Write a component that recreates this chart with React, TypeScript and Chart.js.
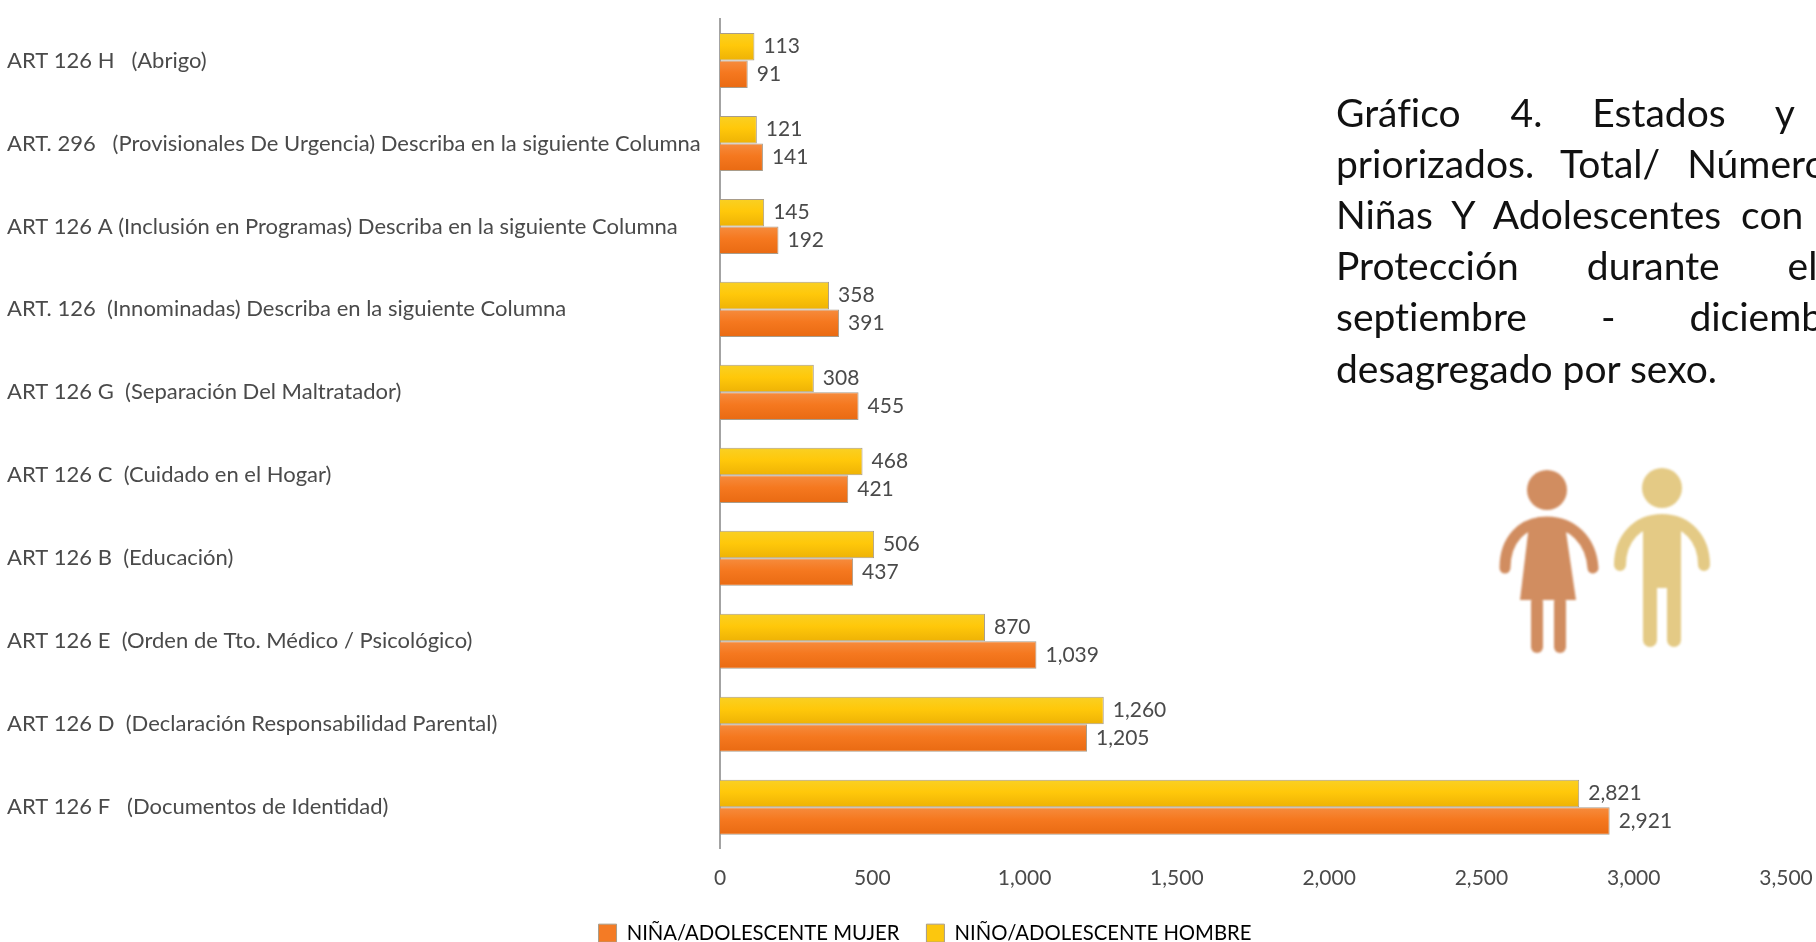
import React, { useEffect, useRef } from "react";
import { Chart, registerables } from "chart.js";

Chart.register(...registerables);

const categories = [
  "ART 126 F   (Documentos de Identidad)",
  "ART 126 D  (Declaración Responsabilidad Parental)",
  "ART 126 E  (Orden de Tto. Médico / Psicológico)",
  "ART 126 B  (Educación)",
  "ART 126 C  (Cuidado en el Hogar)",
  "ART 126 G  (Separación Del Maltratador)",
  "ART. 126  (Innominadas) Describa en la siguiente Columna",
  "ART 126 A (Inclusión en Programas) Describa en la siguiente Columna",
  "ART. 296   (Provisionales De Urgencia) Describa en la siguiente Columna",
  "ART 126 H   (Abrigo)",
];
const ninaValues = [2921, 1205, 1039, 437, 421, 455, 391, 192, 141, 91];
const ninoValues = [2821, 1260, 870, 506, 468, 308, 358, 145, 121, 113];
const ninaLabel = "NIÑA/ADOLESCENTE MUJER";
const ninoLabel = "NIÑO/ADOLESCENTE HOMBRE";

const captionLines = [
  "Gráfico 4. Estados y",
  "priorizados. Total/ Número",
  "Niñas Y Adolescentes con",
  "Protección durante el",
  "septiembre - diciembre",
  "desagregado por sexo.",
];
const captionSpacing = [40, 17, 10, 58, 64, 0];

const FONT = "Lato, 'Open Sans', sans-serif";
const CAT_PCT = 0.664;

const gradientFill = (stops: string[], upper: boolean) => (ctx: any) => {
  const { chart, dataIndex } = ctx;
  const y = chart.scales.y;
  if (!y || !chart.chartArea) return stops[1];
  const c = y.getPixelForValue(dataIndex);
  const half = ((chart.chartArea.height / categories.length) * CAT_PCT) / 2;
  const a = upper ? c - half : c;
  const b = upper ? c : c + half;
  const g = chart.ctx.createLinearGradient(0, a, 0, b);
  g.addColorStop(0, stops[0]);
  g.addColorStop(0.45, stops[1]);
  g.addColorStop(1, stops[2]);
  return g;
};

const valueLabels = {
  id: "valueLabels",
  afterDatasetsDraw(chart: any) {
    const { ctx } = chart;
    ctx.save();
    ctx.font = `21px ${FONT}`;
    ctx.fillStyle = "#4a4a4a";
    ctx.textAlign = "left";
    ctx.textBaseline = "middle";
    chart.data.datasets.forEach((ds: any, i: number) => {
      chart.getDatasetMeta(i).data.forEach((el: any, j: number) => {
        ctx.fillText(Number(ds.data[j]).toLocaleString("en-US"), el.x + 9, el.y);
      });
    });
    ctx.restore();
  },
};

const legendShift = {
  id: "legendShift",
  afterLayout(chart: any) {
    const l = chart.legend;
    const dx = 925 - (l.left + l.right) / 2;
    l.left += dx;
    l.right += dx;
    const dy = 935 - (l.top + 27 + 12);
    l.top += dy;
    l.bottom += dy;
    chart.scales.x.bottom += 40;
  },
};

function People() {
  const girl = "#d18d60";
  const boy = "#e4ca85";
  return (
    <svg
      width={1816}
      height={942}
      style={{ position: "absolute", left: 0, top: 0, filter: "blur(0.8px)", pointerEvents: "none" }}
    >
      <circle cx={1547} cy={490} r={20} fill={girl} />
      <path
        d="M1505 568 C1505 540 1522 522 1547 522 C1572 522 1591 540 1593 568"
        fill="none"
        stroke={girl}
        strokeWidth={11}
        strokeLinecap="round"
      />
      <path d="M1529 525 L1565 525 L1576 600 L1520 600 Z" fill={girl} />
      <rect x={1531} y={596} width={12} height={57} rx={6} fill={girl} />
      <rect x={1554} y={596} width={12} height={57} rx={6} fill={girl} />
      <circle cx={1662} cy={488} r={20} fill={boy} />
      <path
        d="M1620 565 C1620 538 1638 520 1662 520 C1686 520 1704 538 1704 565"
        fill="none"
        stroke={boy}
        strokeWidth={12}
        strokeLinecap="round"
      />
      <rect x={1643} y={520} width={38} height={68} fill={boy} />
      <rect x={1643} y={575} width={14} height={72} rx={7} fill={boy} />
      <rect x={1667} y={575} width={14} height={72} rx={7} fill={boy} />
    </svg>
  );
}

export default function App() {
  const ref = useRef<HTMLCanvasElement>(null);

  useEffect(() => {
    if (!ref.current) return;
    const chart = new Chart(ref.current, {
      type: "bar",
      data: {
        labels: categories,
        datasets: [
          {
            label: ninoLabel,
            data: ninoValues,
            backgroundColor: gradientFill(["#f9d024", "#ffc80a", "#eeb205"], true),
            borderColor: "#a89c8a",
            borderWidth: 1,
            categoryPercentage: CAT_PCT,
            barPercentage: 1,
          },
          {
            label: ninaLabel,
            data: ninaValues,
            backgroundColor: gradientFill(["#f68c3e", "#f5781f", "#e96a12"], false),
            borderColor: "#a89c8a",
            borderWidth: 1,
            categoryPercentage: CAT_PCT,
            barPercentage: 1,
          },
        ],
      },
      options: {
        indexAxis: "y",
        animation: false,
        responsive: false,
        layout: { padding: { left: 7, right: 30, top: 19, bottom: 0 } },
        scales: {
          x: {
            type: "linear",
            min: 0,
            max: 3500,
            grid: { display: false, drawTicks: false },
            border: { display: false },
            ticks: {
              stepSize: 500,
              padding: 17,
              maxRotation: 0,
              color: "#4a4a4a",
              font: { family: FONT, size: 21 },
              callback: (v: any) => Number(v).toLocaleString("en-US"),
            },
            afterFit: (s: any) => {
              s.height = 36;
              s.paddingLeft = 0;
              s.paddingRight = 0;
            },
          },
          y: {
            type: "category",
            reverse: true,
            grid: { display: false, drawTicks: false },
            border: { display: true, color: "#a3a3a3", width: 2 },
            ticks: {
              crossAlign: "far",
              autoSkip: false,
              color: "#4a4a4a",
              font: { family: FONT, size: 22 },
            },
            afterFit: (s: any) => {
              s.width = 713;
              s.paddingTop = 0;
              s.paddingBottom = 0;
            },
          },
        },
        plugins: {
          tooltip: { enabled: false },
          legend: {
            position: "bottom",
            labels: {
              boxWidth: 18,
              boxHeight: 18,
              padding: 27,
              color: "#4a4a4a",
              font: { family: FONT, size: 20.3 },
              generateLabels: () => [
                { text: ninaLabel, fillStyle: "#f47b25", strokeStyle: "#a89c8a", lineWidth: 1, datasetIndex: 1 },
                { text: ninoLabel, fillStyle: "#fcc70e", strokeStyle: "#a89c8a", lineWidth: 1, datasetIndex: 0 },
              ],
            },
          },
        },
      },
      plugins: [valueLabels, legendShift],
    } as any);
    return () => chart.destroy();
  }, []);

  return (
    <div
      style={{ position: "fixed", left: 0, top: 0, width: 1816, height: 942, overflow: "hidden", background: "#fff" }}
    >
      <canvas
        ref={ref}
        width={1816}
        height={942}
        style={{ display: "block", width: 1816, height: 942, filter: "blur(0.7px)" }}
      />
      <People />
      {captionLines.map((line, i) => (
        <div
          key={i}
          style={{
            position: "absolute",
            left: 1336,
            top: 87 + i * 51.1,
            whiteSpace: "nowrap",
            font: `39px ${FONT}`,
            lineHeight: "51px",
            color: "#111",
            wordSpacing: captionSpacing[i],
            fontVariantLigatures: "none",
          }}
        >
          {line}
        </div>
      ))}
    </div>
  );
}
